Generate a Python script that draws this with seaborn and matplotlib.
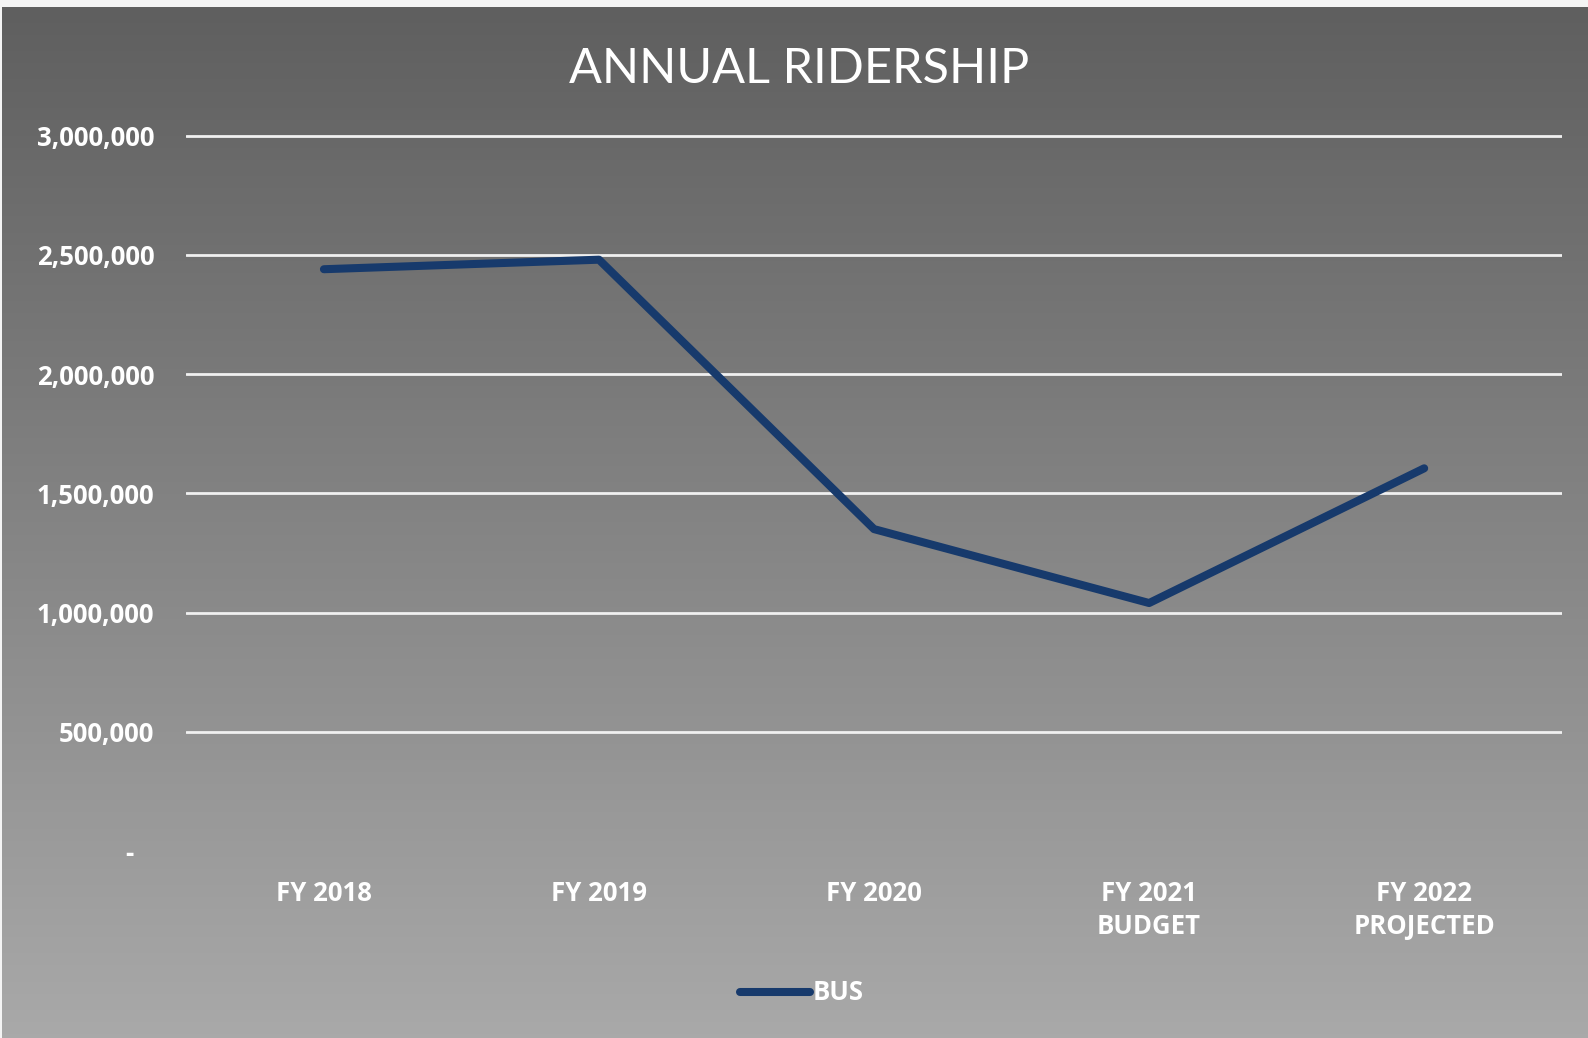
import numpy as np
import pandas as pd
import matplotlib
matplotlib.use("Agg")
import matplotlib.pyplot as plt
import seaborn as sns
from matplotlib.colors import LinearSegmentedColormap

categories = ["FY 2018", "FY 2019", "FY 2020", "FY 2021\nBUDGET", "FY 2022\nPROJECTED"]
bus_ridership = [2440000, 2480000, 1350000, 1040000, 1605000]
y_ticks = [0, 500000, 1000000, 1500000, 2000000, 2500000, 3000000]
y_tick_labels = ["-   ", "500,000", "1,000,000", "1,500,000", "2,000,000", "2,500,000", "3,000,000"]
series_name = "BUS"
title = "ANNUAL RIDERSHIP"

df = pd.DataFrame({"year": categories, "riders": bus_ridership})

sns.set_theme(style="white")
plt.rcParams["font.family"] = ["Open Sans", "DejaVu Sans"]

W, H = 1588, 1038
fig = plt.figure(figsize=(W / 100, H / 100), dpi=100, facecolor="#f4f4f4")

# gradient background panel
bg = fig.add_axes([2 / W, 0, 1 - 2 / W, 1 - 7 / H], zorder=0)
grad = np.linspace(0, 1, 256).reshape(-1, 1)
cmap = LinearSegmentedColormap.from_list("g", ["#5f5f5f", "#a9a9a9"])
bg.imshow(grad, aspect="auto", cmap=cmap, extent=[0, 1, 0, 1], origin="upper")
bg.set_axis_off()

ymax = 3030000
bottom_px = 851.0
top3m_px = 135.7
px_per_unit = (bottom_px - top3m_px) / 3000000
ax_h_px = ymax * px_per_unit
ax = fig.add_axes([186.4 / W, 1 - bottom_px / H, 1375.3 / W, ax_h_px / H], zorder=1)
ax.patch.set_alpha(0)

sns.lineplot(data=df, x="year", y="riders", ax=ax, color="#173a6c",
             linewidth=5.8, label=series_name, sort=False,
             solid_capstyle="round", solid_joinstyle="round")

ax.set_xlim(-0.5, 4.5)
ax.set_ylim(0, ymax)
ax.set_yticks(y_ticks)
ax.set_yticklabels(y_tick_labels)
ax.set_xlabel("")
ax.set_ylabel("")
for s in ax.spines.values():
    s.set_visible(False)
ax.grid(axis="y", color="#f0f0f0", linewidth=2)
ax.set_axisbelow(True)
ax.yaxis.get_gridlines()[0].set_visible(False)
ax.tick_params(axis="both", length=0, colors="white")
ax.tick_params(axis="y", pad=23)
ax.tick_params(axis="x", pad=21)
for lbl in ax.get_yticklabels() + ax.get_xticklabels():
    lbl.set_fontweight("bold")
    lbl.set_fontsize(18.5)
    lbl.set_color("white")
for lbl in ax.get_xticklabels():
    lbl.set_linespacing(1.28)

fig.text(0.5035, 1 - 83 / H, title, ha="center", va="baseline", color="white",
         fontsize=35, fontweight="normal", family=["Lato", "DejaVu Sans"])

ax.legend_.remove()
leg = fig.legend(loc="center", bbox_to_anchor=(0.505, 1 - 993 / H), frameon=False,
                 handlelength=2.7, handletextpad=0.1, fontsize=18.5)
for t in leg.get_texts():
    t.set_color("white")
    t.set_fontweight("bold")

fig.savefig("out.png", dpi=100, facecolor=fig.get_facecolor())
